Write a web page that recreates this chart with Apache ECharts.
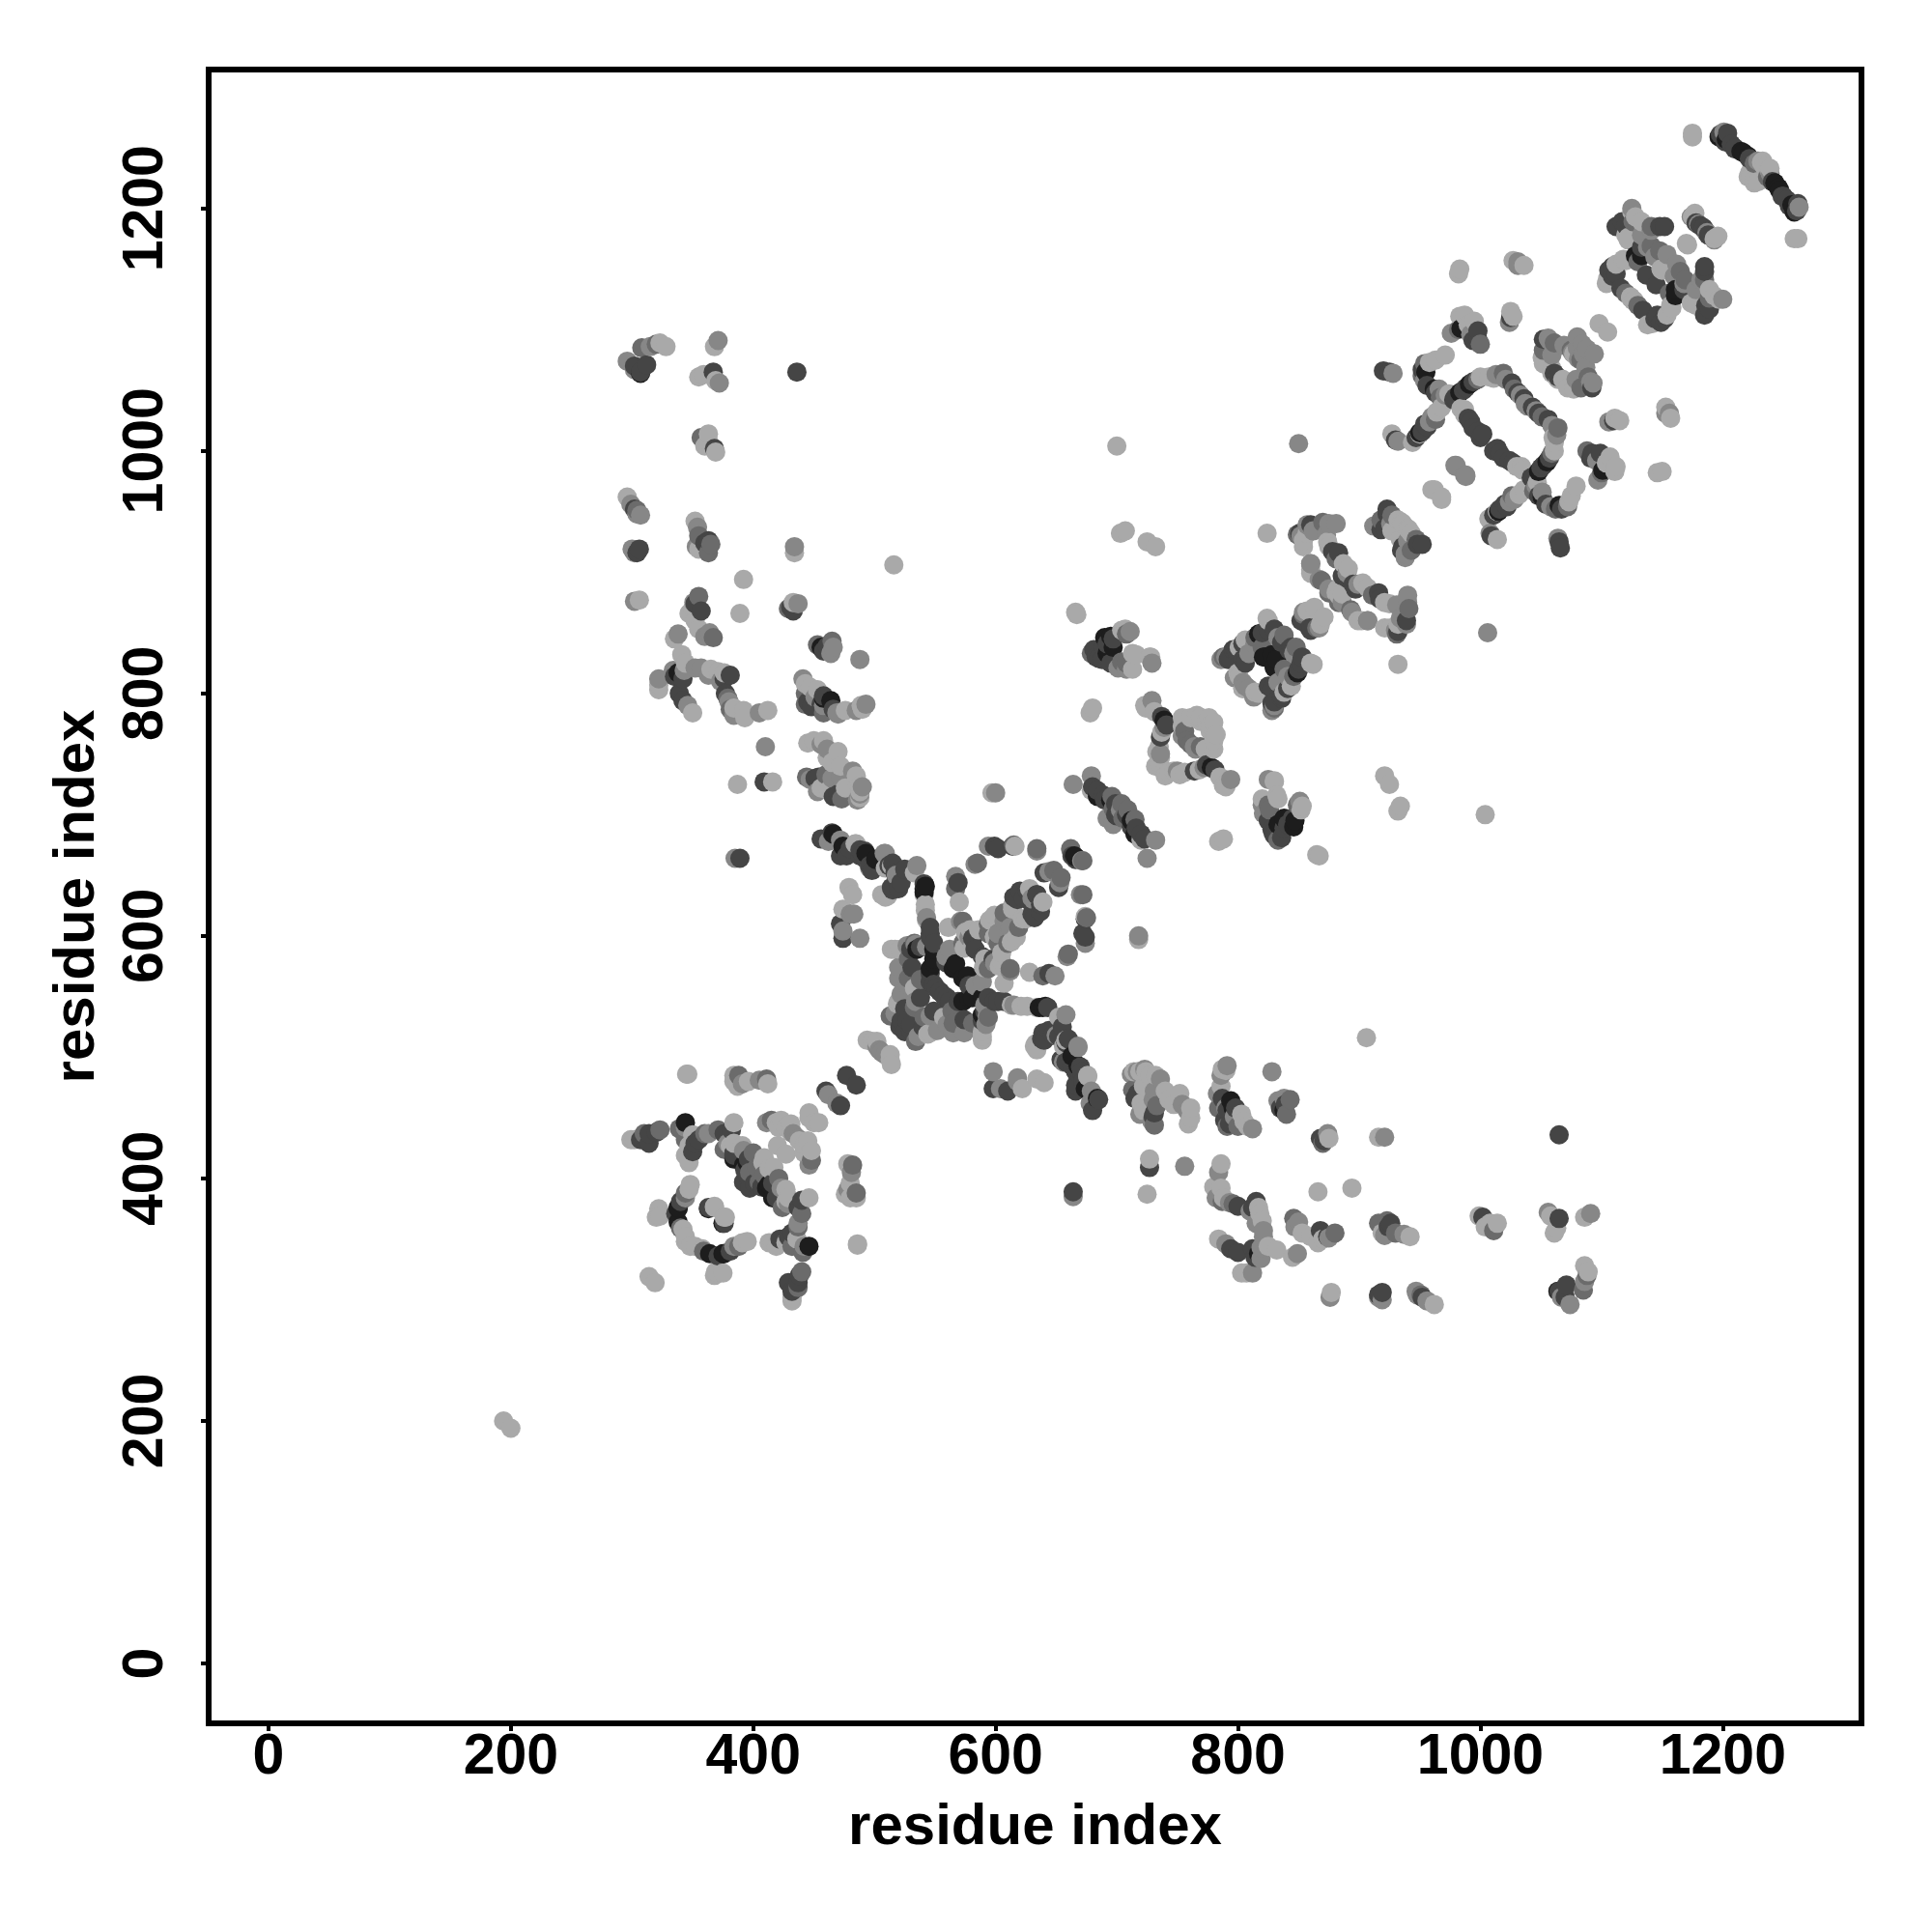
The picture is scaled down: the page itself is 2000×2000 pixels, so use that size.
<!DOCTYPE html>
<html><head><meta charset="utf-8">
<style>html,body{margin:0;padding:0;background:#fff}#c{width:2000px;height:2000px}</style>
<script src="https://cdn.jsdelivr.net/npm/echarts@6/dist/echarts.min.js"></script></head>
<body><div id="c"></div>
<script>
const tickValues=[0,200,400,600,800,1000,1200];
const axisTitle='residue index';
const contactsBlack=[[796,458],[838,456],[817,338],[821,830],[849,817],[830,822],[833,692],[847,695],[712,695],[778,739],[1243,1221],[1259,1197],[1161,1133],[1048,983],[1051,962],[1101,984],[665,666],[684,466],[674,474],[641,542],[636,541],[573,565],[577,567],[573,546],[578,549],[589,535],[411,392],[375,338],[364,338],[446,344],[1247,1215],
[794,464],[832,828],[838,697],[846,690],[715,684],[1257,1203],[1246,1217],[1161,1128],[1055,991],[1065,955],[1015,950],[589,549],[581,549],[639,541],[663,501],[668,493],[413,395],[376,338],[416,384],[375,363],[1064,307]];
const contactsDark=[[717,470],[731,454],[793,445],[839,461],[871,431],[1065,436],[727,409],[800,377],[812,376],[874,352],[800,339],[919,306],[952,302],[924,360],[926,363],[1002,368],[1065,367],[1071,312],[1065,307],[1009,930],[948,923],[935,918],[932,851],[917,878],[895,890],[859,854],[852,825],[836,796],[830,793],[844,838],[825,806],[845,697],[838,689],[829,685],[836,681],[764,736],[716,689],[708,700],[699,709],[699,700],[720,684],[1255,1202],[1253,1207],[1249,1210],[1186,1120],[1185,1112],[1186,1181],[1152,1109],[1146,1112],[1134,1116],[1145,1137],[1185,1148],[1092,1052],[1064,1061],[1110,1025],[1092,998],[1057,994],[1052,988],[1044,979],[1067,952],[1011,1000],[1019,994],[1016,952],[1011,947],[1022,954],[1065,925],[1066,920],[652,640],[674,599],[674,614],[637,620],[632,615],[631,623],[643,541],[607,546],[599,546],[589,583],[557,551],[569,546],[530,522],[574,531],[647,518],[638,515],[654,498],[670,492],[666,488],[663,493],[598,474],[610,472],[664,389],[655,525],[660,515],[672,480],[685,465],[680,456],[666,477],[668,490],[658,512],[640,514],[666,472],[485,477],[437,376],[432,355],[422,350],[438,320],[435,310],[437,314],[416,396],[401,396],[419,384],[376,363],[1262,1204],
[715,466],[730,451],[787,466],[791,456],[789,448],[798,458],[835,458],[868,433],[815,381],[868,357],[794,342],[812,342],[814,335],[916,304],[1070,302],[936,921],[952,923],[939,860],[916,883],[897,886],[860,852],[850,820],[853,830],[836,842],[841,804],[836,798],[828,792],[828,804],[841,692],[830,683],[825,695],[828,688],[781,737],[774,741],[712,690],[702,701],[723,680],[1261,1198],[1250,1210],[1241,1222],[1185,1152],[1189,1117],[1188,1178],[1184,1184],[1168,1133],[1149,1106],[1144,1109],[1056,1026],[1043,1036],[1048,1031],[1027,990],[1024,992],[1016,998],[1014,1002],[1050,986],[1042,978],[1048,963],[1054,956],[1020,956],[1099,998],[1091,994],[672,602],[663,666],[634,634],[637,626],[630,618],[598,581],[644,569],[578,559],[594,549],[591,538],[589,530],[602,546],[562,546],[560,549],[554,554],[549,538],[540,525],[530,527],[525,521],[639,520],[644,522],[652,517],[658,496],[671,488],[472,460],[440,382],[429,352],[432,307],[429,314],[381,340],[371,336],[407,393],[397,392],[421,384]];
const contactsGrey=[[733,460],[731,444],[713,473],[784,458],[791,443],[800,443],[843,465],[840,453],[870,429],[787,381],[796,379],[846,367],[880,355],[916,363],[923,365],[930,355],[1011,357],[1088,320],[1085,308],[951,304],[943,918],[947,927],[931,849],[941,870],[911,881],[883,875],[893,869],[865,854],[846,814],[848,838],[838,820],[830,788],[826,704],[825,708],[849,708],[833,679],[761,758],[769,756],[705,697],[709,704],[715,696],[1237,1226],[1189,1126],[1185,1141],[1130,1120],[1169,1141],[1165,1148],[1156,1130],[1089,1061],[1083,1075],[1083,1052],[1064,1019],[1051,1028],[1059,998],[1044,967],[1062,952],[1072,954],[1026,963],[1088,1000],[1100,982],[672,634],[654,648],[672,662],[660,585],[675,615],[619,607],[610,594],[602,594],[639,567],[612,573],[581,528],[594,533],[564,538],[565,528],[541,533],[534,513],[594,573],[482,411],[485,388],[448,415],[440,371],[437,360],[441,339],[432,344],[440,323],[437,310],[388,344],[359,340],[421,400],[424,376],[405,397],[409,403]];
const contactsMid=[[717,488],[736,482],[730,465],[729,447],[786,485],[784,469],[790,458],[812,441],[828,488],[838,466],[921,434],[756,410],[784,405],[793,380],[821,357],[850,364],[875,351],[849,338],[790,346],[819,343],[812,322],[876,302],[916,302],[948,304],[956,299],[921,353],[937,354],[1091,371],[1086,315],[1074,296],[1067,302],[1006,850],[980,987],[988,980],[1008,932],[940,926],[938,915],[940,875],[940,881],[939,857],[931,873],[899,890],[886,875],[894,867],[907,860],[934,862],[867,854],[841,814],[846,833],[828,786],[806,806],[833,809],[825,729],[820,708],[821,701],[851,711],[794,729],[772,739],[765,754],[756,764],[750,736],[725,664],[732,679],[697,692],[703,704],[1263,1201],[1239,1229],[1200,1125],[1182,1141],[1178,1133],[1180,1187],[1174,1193],[1168,1138],[1160,1144],[1162,1154],[1091,1057],[1087,1069],[1088,1084],[1081,1076],[1156,1031],[1153,1031],[1096,992],[1097,976],[1063,1013],[1046,1033],[1039,1037],[1059,1021],[1046,971],[1058,954],[1024,958],[1028,960],[1051,966],[1064,928],[979,988],[718,600],[671,662],[653,644],[670,634],[659,583],[674,594],[658,535],[615,543],[591,543],[649,567],[612,571],[612,607],[602,602],[630,631],[589,562],[583,559],[546,534],[536,517],[560,527],[565,520],[574,520],[593,534],[599,578],[552,522],[592,527],[668,509],[598,488],[618,483],[664,385],[679,472],[656,496],[668,508],[650,518],[678,462],[469,462],[481,405],[478,391],[446,411],[437,433],[437,363],[442,344],[423,392],[429,379],[384,344],[509,502],[504,506],[604,474],[618,480],
[723,490],[712,486],[719,453],[731,472],[758,456],[754,461],[783,470],[791,493],[797,451],[833,464],[874,437],[782,384],[810,373],[815,363],[821,352],[847,360],[819,334],[919,300],[1056,372],[947,307],[938,912],[930,852],[907,860],[809,804],[813,797],[830,790],[1094,1080],[1085,1080],[1079,1059],[1093,1056],[1106,1024]];
const contactsLight=[[723,488],[727,485],[722,476],[722,456],[743,465],[752,470],[761,458],[761,450],[790,489],[786,476],[803,453],[875,433],[906,516],[727,416],[786,412],[725,387],[786,392],[788,384],[817,376],[820,365],[866,389],[894,392],[853,355],[866,347],[832,341],[807,322],[877,306],[962,296],[942,352],[999,369],[1008,363],[1058,369],[1063,359],[1086,368],[1089,323],[932,824],[960,968],[968,962],[1014,927],[943,932],[936,940],[926,854],[925,874],[907,887],[886,882],[902,860],[871,863],[862,824],[838,801],[814,801],[830,728],[833,713],[852,704],[921,732],[925,725],[934,707],[932,703],[1004,700],[867,666],[865,667],[788,680],[784,678],[790,723],[785,731],[756,735],[743,735],[735,743],[780,761],[780,769],[769,777],[720,679],[1262,1175],[1259,1175],[1239,1233],[1226,1223],[1232,1238],[1222,1229],[1193,1128],[1178,1120],[1176,1122],[1193,1175],[1170,1171],[1158,1118],[1142,1105],[1127,1124],[1150,1149],[1105,1098],[1077,1051],[1068,1059],[1077,1080],[1115,1025],[1150,983],[1146,982],[1104,990],[1111,983],[1061,1000],[1030,987],[1035,984],[1073,958],[1079,971],[1032,964],[1014,950],[674,616],[626,542],[589,517],[628,570],[607,561],[605,579],[613,595],[639,628],[622,614],[590,574],[591,581],[544,519],[658,514],[632,509],[676,485],[634,482],[714,488],[724,488],[622,474],[640,479],[676,484],[634,506],[513,498],[494,514],[454,446],[446,419],[442,427],[427,420],[478,412],[485,384],[476,387],[446,384],[486,346],[427,347],[416,347],[432,302],[391,347],[358,342],[348,344],[376,368],[375,322],[368,320],[319,314],[413,408],[427,381],[345,486],[200,194],
[720,462],[759,445],[740,472],[747,461],[787,490],[808,443],[805,447],[916,434],[780,393],[818,371],[860,352],[870,350],[845,335],[784,350],[825,344],[803,322],[919,355],[1004,360],[1014,363],[1061,355],[1086,328],[934,927],[941,935],[932,857],[921,854],[921,875],[903,891],[881,883],[899,860],[868,857],[860,825],[844,806],[817,800],[804,804],[820,713],[830,727],[832,716],[853,707],[788,724],[768,737],[747,736],[752,733],[740,732],[776,780],[782,766],[777,774],[773,754],[780,754],[1234,1235],[1221,1226],[1197,1125],[1189,1133],[1174,1122],[1196,1177],[1157,1120],[1154,1112],[1138,1104],[1124,1126],[1072,1052],[1064,1059],[1060,1011],[1061,1007],[1034,987],[1047,974],[1075,963],[1036,968],[1007,944],[1111,1027],[1153,1036],[1157,1027],[1107,995],[1112,987],[718,597],[617,599],[599,599],[605,586],[603,575],[621,542],[613,543],[634,541],[652,533],[625,614],[557,533],[546,520],[589,521],[589,514],[633,511],[656,509],[719,488],[732,485],[513,502],[450,446],[445,431],[448,423],[442,421],[438,431],[480,396],[480,384],[436,350],[419,344],[413,347],[432,299],[395,348],[352,344],[377,368],[369,323],[427,391],[417,409],[429,384]];
const shadeColors=['#1d1d1d','#454545','#6b6b6b','#878787','#a9a9a9'];
const shadeRows=[contactsBlack,contactsDark,contactsGrey,contactsMid,contactsLight];
// both triangles, drawn in residue order as the overlaps in the reference suggest
const points=[];
shadeRows.forEach((rows,k)=>rows.forEach(p=>{
  points.push({value:[p[0],p[1]],itemStyle:{color:shadeColors[k],opacity:1}});
  points.push({value:[p[1],p[0]],itemStyle:{color:shadeColors[k],opacity:1}});
}));
points.sort((a,b)=>a.value[0]-b.value[0]||a.value[1]-b.value[1]);
const axisBase={type:'value',min:-49.4,max:1314.5,name:axisTitle,nameLocation:'middle',
  nameTextStyle:{fontFamily:'Liberation Sans',fontWeight:'bold',fontSize:60,color:'#000'},
  splitLine:{show:false},axisLine:{show:false,onZero:false},
  axisTick:{show:true,length:8,lineStyle:{width:4,color:'#000'},customValues:tickValues},
  axisLabel:{customValues:tickValues,fontFamily:'Liberation Sans',fontWeight:'bold',fontSize:59,color:'#000',formatter:v=>String(v)}};
const chart=echarts.init(document.getElementById('c'),null,{renderer:'canvas'});
chart.setOption({animation:false,backgroundColor:'#fff',
  grid:{left:216,right:73,top:72,bottom:216,show:true,borderColor:'#000',borderWidth:6,backgroundColor:'#fff'},
  xAxis:Object.assign({},axisBase,{nameGap:78,axisLabel:Object.assign({},axisBase.axisLabel,{margin:6})}),
  yAxis:Object.assign({},axisBase,{nameGap:106,axisLabel:Object.assign({},axisBase.axisLabel,{rotate:90,margin:64,verticalAlign:'middle'})}),
  series:[{type:'scatter',data:points,symbolSize:20,silent:true,clip:false,large:false,progressive:0,itemStyle:{opacity:1}}]
});
</script></body></html>
